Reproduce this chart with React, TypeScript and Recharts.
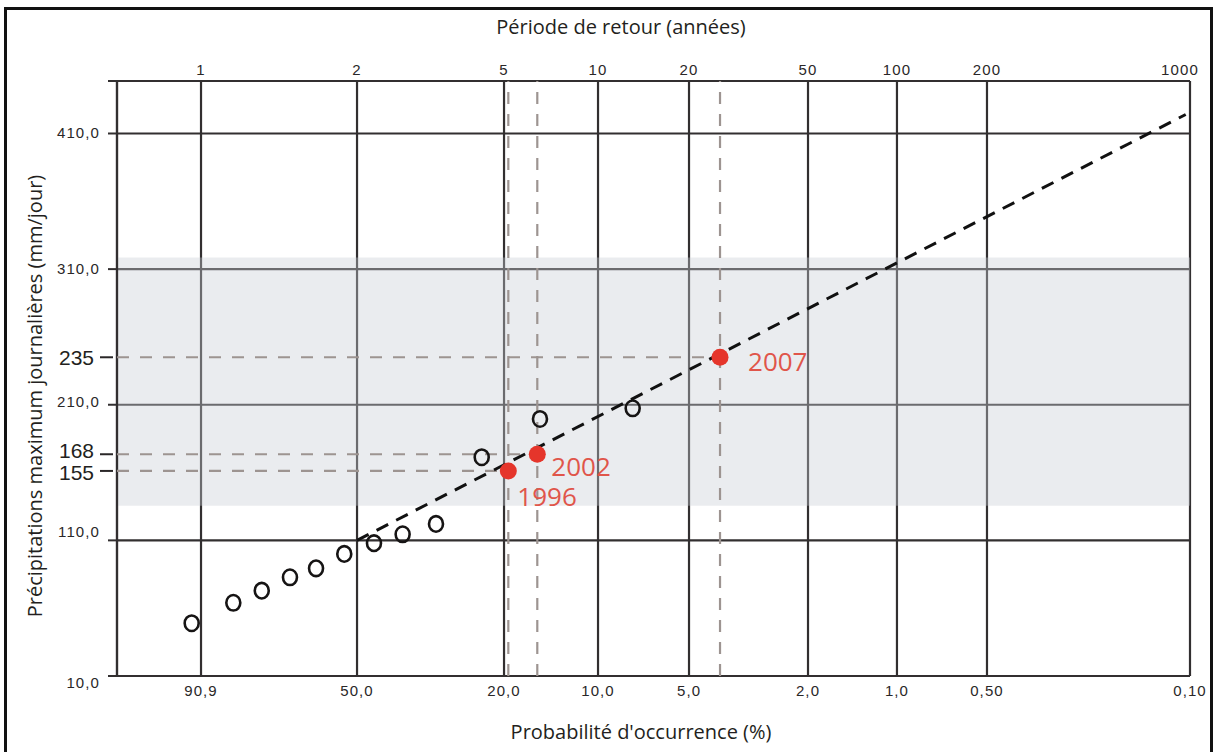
import React from "react";
import {
  ComposedChart,
  XAxis,
  YAxis,
  CartesianGrid,
  Scatter,
  Line,
  ReferenceLine,
  ReferenceArea,
} from "recharts";

// position along the probability (Gumbel) axis, 0 = left edge, 100 = right edge
const X_TICKS = [7.83, 22.37, 36.07, 44.83, 53.31, 64.4, 72.69, 81.08, 100];
const PROBA_LABELS = ["90,9", "50,0", "20,0", "10,0", "5,0", "2,0", "1,0", "0,50", "0,10"];
const PERIOD_LABELS = ["1", "2", "5", "10", "20", "50", "100", "200", "1000"];

const Y_MIN = 10;
const Y_MAX = 448.7;
const Y_TICKS = [10, 110, 210, 310, 410];
const Y_LABELS = ["10,0", "110,0", "210,0", "310,0", "410,0"];

// observed annual maxima (open circles)
const OBS_X = [6.96, 10.84, 13.49, 16.12, 18.55, 21.18, 23.95, 26.62, 29.73, 33.99, 39.42, 48.06];
const OBS_Y = [48.9, 64.0, 72.9, 82.8, 89.4, 100.0, 107.9, 114.5, 122.1, 171.3, 199.5, 207.4];

// highlighted events
const EVENT_YEARS = ["1996", "2002", "2007"];
const EVENT_X = [36.47, 39.17, 56.2];
const EVENT_Y = [161.2, 173.5, 245.0];
const EVENT_LABELS = ["155", "168", "235"];

// fitted Gumbel line
const FIT_X = [22.37, 99.6];
const FIT_Y = [110, 424];

// shaded band
const BAND = [135.5, 318.5];

const observed = OBS_X.map((u, i) => ({ u, v: OBS_Y[i] }));
const events = EVENT_X.map((u, i) => ({ u, v: EVENT_Y[i], year: EVENT_YEARS[i] }));
const fit = FIT_X.map((u, i) => ({ u, v: FIT_Y[i] }));

const INK = "#2a2728";
const GRID = "#322f30";
const DASH_GREY = "#9d9491";
const RED = "#e5352b";
const RED_TEXT = "#e0554a";
const TICK_FONT = "'Liberation Sans', Arial, sans-serif";
const TITLE_FONT = "'Open Sans', sans-serif";

// small vertical nudges of the y labels, as they sit in the original
const Y_LABEL_NUDGE = [7, -8, -3, 0, 0];
const EVENT_LABEL_NUDGE = [2, -4, 0];
const YEAR_OFFSET: Record<string, [number, number]> = {
  "1996": [9, 35],
  "2002": [14, 22],
  "2007": [28, 14],
};

const YTick = ({ x, y, payload }: any) => {
  const v = payload.value;
  const i = Y_TICKS.indexOf(v);
  if (i >= 0) {
    return (
      <g>
        <line x1={x - 9} x2={x} y1={y} y2={y} stroke={GRID} strokeWidth={2} />
        <text
          x={x - 17}
          y={y + Y_LABEL_NUDGE[i]}
          dy={5}
          textAnchor="end"
          fontSize={15}
          letterSpacing={1.1}
          fontFamily={TICK_FONT}
          fill={INK}
        >
          {Y_LABELS[i]}
        </text>
      </g>
    );
  }
  const j = EVENT_Y.indexOf(v);
  if (j >= 0) {
    return (
      <g>
        <line x1={x - 17} x2={x - 4} y1={y} y2={y} stroke={INK} strokeWidth={2} />
        <text
          x={x - 23}
          y={y + EVENT_LABEL_NUDGE[j]}
          dy={7.5}
          textAnchor="end"
          fontSize={21}
          fontFamily={TICK_FONT}
          fill="#231f20"
        >
          {EVENT_LABELS[j]}
        </text>
      </g>
    );
  }
  return <line x1={x - 9} x2={x} y1={y} y2={y} stroke={GRID} strokeWidth={2} />;
};

const ProbaTick = ({ x, y, payload }: any) => {
  const i = X_TICKS.indexOf(payload.value);
  return (
    <text
      x={x}
      y={y + 20}
      textAnchor="middle"
      fontSize={15}
      letterSpacing={1.1}
      fontFamily={TICK_FONT}
      fill={INK}
    >
      {PROBA_LABELS[i]}
    </text>
  );
};

const PeriodTick = ({ x, y, payload }: any) => {
  const i = X_TICKS.indexOf(payload.value);
  const shift = i === X_TICKS.length - 1 ? -10 : 0;
  return (
    <text
      x={x + shift}
      y={y - 6}
      textAnchor="middle"
      fontSize={15}
      letterSpacing={1.1}
      fontFamily={TICK_FONT}
      fill={INK}
    >
      {PERIOD_LABELS[i]}
    </text>
  );
};

const OpenRing = ({ cx, cy }: any) => (
  <ellipse cx={cx} cy={cy} rx={7} ry={7.8} fill="none" stroke="#161414" strokeWidth={2.6} />
);

const EventDot = ({ cx, cy, payload }: any) => {
  const off = YEAR_OFFSET[payload.year] || [10, 20];
  return (
    <g>
      <circle cx={cx} cy={cy} r={8.5} fill={RED} />
      <text
        x={cx + off[0]}
        y={cy + off[1]}
        fontSize={26}
        fontFamily={TITLE_FONT}
        fill={RED_TEXT}
      >
        {payload.year}
      </text>
    </g>
  );
};

const titleStyle: React.CSSProperties = {
  position: "absolute",
  fontFamily: TITLE_FONT,
  fontSize: 20,
  color: "#231f20",
  whiteSpace: "nowrap",
  transform: "translate(-50%, -50%)",
  lineHeight: "24px",
};

export default function App() {
  return (
    <div
      style={{
        position: "absolute",
        left: 0,
        top: 0,
        width: 1215,
        height: 752,
        background: "#fff",
        overflow: "hidden",
      }}
    >
      <ComposedChart
        width={1215}
        height={752}
        margin={{ top: 51, right: 25, bottom: 46, left: 0 }}
      >
        <ReferenceArea
          xAxisId="p"
          x1={0}
          x2={100}
          y1={BAND[0]}
          y2={BAND[1]}
          fill="#c8cdd4"
          fillOpacity={0.38}
          stroke="none"
        />
        <CartesianGrid
          xAxisId="p"
          stroke={GRID}
          strokeWidth={2.2}
          horizontalValues={[...Y_TICKS, Y_MAX]}
          verticalValues={[0, ...X_TICKS]}
        />
        <XAxis
          xAxisId="p"
          type="number"
          dataKey="u"
          domain={[0, 100]}
          ticks={X_TICKS}
          interval={0}
          axisLine={false}
          tickLine={false}
          tickSize={0}
          tickMargin={0}
          height={30}
          tick={<ProbaTick />}
          allowDataOverflow
        />
        <XAxis
          xAxisId="t"
          orientation="top"
          type="number"
          dataKey="u"
          domain={[0, 100]}
          ticks={X_TICKS}
          interval={0}
          axisLine={false}
          tickLine={false}
          tickSize={0}
          tickMargin={0}
          height={30}
          tick={<PeriodTick />}
          allowDataOverflow
        />
        <YAxis
          type="number"
          dataKey="v"
          domain={[Y_MIN, Y_MAX]}
          ticks={[...Y_TICKS, Y_MAX, ...EVENT_Y]}
          interval={0}
          axisLine={false}
          tickLine={false}
          tickSize={0}
          tickMargin={0}
          width={117}
          tick={<YTick />}
          allowDataOverflow
        />
        <ReferenceLine xAxisId="p" x={0} stroke={GRID} strokeWidth={2.2} />
        {events.map((e) => (
          <ReferenceLine
            key={"h" + e.year}
            xAxisId="p"
            segment={[
              { x: 0, y: e.v },
              { x: e.u, y: e.v },
            ]}
            stroke={DASH_GREY}
            strokeWidth={2.2}
            strokeDasharray="12 11"
          />
        ))}
        {events.map((e) => (
          <ReferenceLine
            key={"v" + e.year}
            xAxisId="p"
            segment={[
              { x: e.u, y: Y_MIN },
              { x: e.u, y: Y_MAX },
            ]}
            stroke={DASH_GREY}
            strokeWidth={2.2}
            strokeDasharray="12 10"
          />
        ))}
        <Line
          xAxisId="p"
          data={fit}
          dataKey="v"
          stroke="#111"
          strokeWidth={3}
          strokeDasharray="13 9"
          dot={false}
          activeDot={false}
          isAnimationActive={false}
        />
        <Scatter
          xAxisId="p"
          data={observed}
          dataKey="v"
          shape={OpenRing}
          isAnimationActive={false}
        />
        <Scatter
          xAxisId="p"
          data={events}
          dataKey="v"
          shape={EventDot}
          isAnimationActive={false}
        />
      </ComposedChart>

      <div style={{ ...titleStyle, left: 621, top: 27 }}>Période de retour (années)</div>
      <div style={{ ...titleStyle, left: 641, top: 732 }}>Probabilité d'occurrence (%)</div>
      <div
        style={{
          ...titleStyle,
          left: 35,
          top: 396,
          transform: "translate(-50%, -50%) rotate(-90deg)",
        }}
      >
        Précipitations maximum journalières (mm/jour)
      </div>

      <div
        style={{
          position: "absolute",
          left: 4,
          top: 7,
          width: 1209,
          height: 760,
          border: "3px solid #111",
          boxSizing: "border-box",
          pointerEvents: "none",
        }}
      />
    </div>
  );
}
